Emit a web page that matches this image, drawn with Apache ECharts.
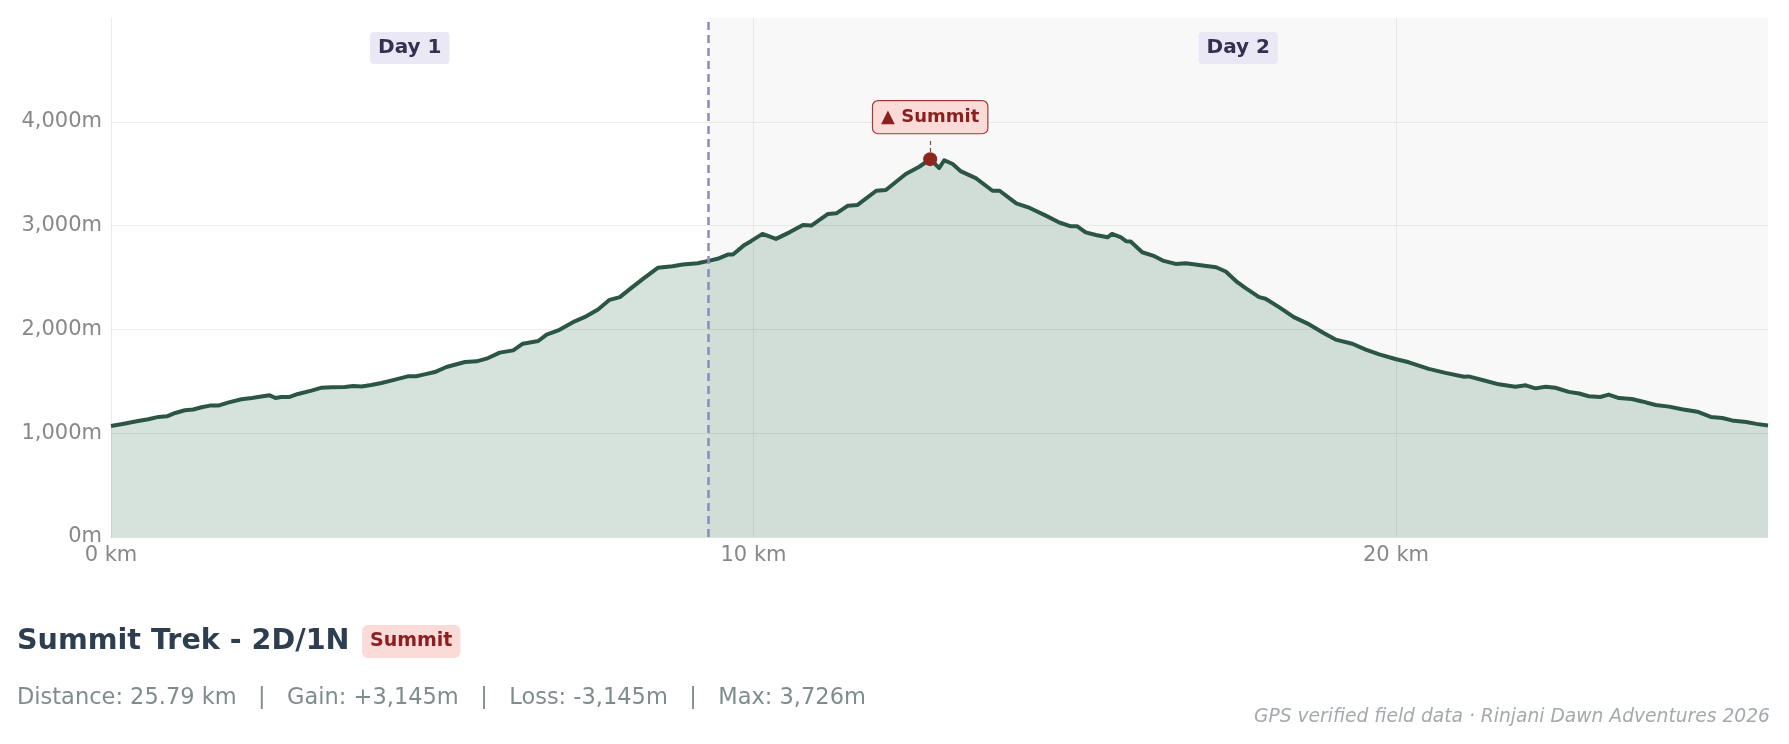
<!DOCTYPE html>
<html lang="en">

<head>
    <meta charset="UTF-8">
    <title>Summit Trek - 2D/1N</title>
    <style>
        html, body { margin: 0; padding: 0; background: #ffffff; }
        #chart { width: 1789px; height: 744px; }
    </style>
</head>

<body>
    <div id="chart"></div>
</body>
<script src="https://cdn.jsdelivr.net/npm/echarts@6.0.0/dist/echarts.min.js"></script>
<script>
    // distance along the trail (km) and elevation (m)
    var distanceKm = [
        0.00, 0.22, 0.42, 0.58, 0.74, 0.87, 1.00, 1.15, 1.28, 1.41, 1.54, 1.67, 1.82, 2.03, 2.19, 2.34,
        2.47, 2.56, 2.65, 2.78, 2.91, 3.12, 3.28, 3.43, 3.64, 3.77, 3.90, 4.05, 4.21, 4.42, 4.62, 4.75,
        4.88, 5.04, 5.22, 5.51, 5.69, 5.87, 6.05, 6.26, 6.41, 6.65, 6.78, 6.96, 7.19, 7.37, 7.58, 7.76,
        7.92, 8.07, 8.28, 8.51, 8.74, 8.90, 9.13, 9.32, 9.44, 9.60, 9.68, 9.86, 9.96, 10.14, 10.35, 10.56,
        10.77, 10.90, 11.16, 11.29, 11.47, 11.62, 11.91, 12.06, 12.37, 12.58, 12.75, 12.89, 12.97, 13.10,
        13.23, 13.46, 13.72, 13.83, 14.09, 14.30, 14.55, 14.76, 14.94, 15.04, 15.17, 15.33, 15.51, 15.58,
        15.72, 15.80, 15.87, 16.05, 16.24, 16.37, 16.57, 16.73, 16.99, 17.20, 17.35, 17.53, 17.66, 17.87,
        17.97, 18.18, 18.41, 18.65, 18.88, 19.06, 19.32, 19.53, 19.74, 19.99, 20.20, 20.51, 20.77, 21.06,
        21.13, 21.39, 21.60, 21.86, 22.02, 22.17, 22.33, 22.48, 22.69, 22.85, 23.00, 23.18, 23.31, 23.47,
        23.67, 23.83, 24.04, 24.25, 24.45, 24.69, 24.90, 25.08, 25.23, 25.45, 25.61, 25.79
    ];
    var elevationM = [
        1070, 1093, 1118, 1135, 1157, 1163, 1195, 1221, 1228, 1250, 1266, 1266, 1295, 1327, 1339, 1353,
        1365, 1339, 1349, 1349, 1378, 1410, 1439, 1442, 1445, 1455, 1449, 1464, 1484, 1516, 1548, 1548,
        1567, 1589, 1638, 1686, 1692, 1724, 1776, 1798, 1862, 1888, 1949, 1990, 2070, 2118, 2192, 2285,
        2311, 2385, 2487, 2593, 2609, 2625, 2637, 2663, 2680, 2721, 2721, 2814, 2850, 2920, 2872, 2935,
        3006, 3000, 3112, 3118, 3192, 3199, 3336, 3343, 3497, 3567, 3640, 3555, 3630, 3593,
        3522, 3458, 3336, 3336, 3214, 3170, 3096, 3030, 2993, 2993, 2935, 2910, 2887, 2920,
        2887, 2849, 2846, 2743, 2705, 2663, 2631, 2637, 2615, 2599, 2558, 2455, 2397, 2311,
        2295, 2215, 2118, 2048, 1963, 1902, 1862, 1805, 1760, 1715, 1683, 1620, 1581, 1544,
        1547, 1505, 1471, 1448, 1461, 1432, 1448, 1438, 1398, 1382, 1356, 1349, 1372, 1338,
        1329, 1306, 1272, 1256, 1230, 1207, 1157, 1147, 1123, 1107, 1090, 1074
    ];
    var dayBreakKm = 9.3;
    var dayLabels = ['Day 1', 'Day 2'];
    var summitLabel = '▲ Summit';
    var yTicks = [0, 1000, 2000, 3000, 4000, 5000];
    var xTicks = [0, 10, 20];

    var totalKm = distanceKm[distanceKm.length - 1];
    var profile = distanceKm.map(function (d, i) { return [d, elevationM[i]]; });

    // highest point of the route
    var topIdx = 0;
    elevationM.forEach(function (v, i) { if (v > elevationM[topIdx]) topIdx = i; });
    var summit = [distanceKm[topIdx], elevationM[topIdx]];

    var font = 'DejaVu Sans';
    var chart = echarts.init(document.getElementById('chart'));

    var option = {
        animation: false,
        textStyle: { fontFamily: font },
        grid: { left: 111, right: 21, top: 18, bottom: 207, outerBoundsMode: 'none' },
        xAxis: {
            type: 'value',
            min: xTicks[0],
            max: totalKm,
            interval: xTicks[1] - xTicks[0],
            axisLine: { show: true, lineStyle: { color: 'rgba(0,0,0,0.12)', width: 1 } },
            axisTick: { show: false },
            axisLabel: {
                showMaxLabel: false,
                margin: 8,
                fontSize: 21,
                color: '#888888',
                formatter: function (v) { return v + ' km'; }
            },
            splitLine: { show: true, showMinLine: false, showMaxLine: false, lineStyle: { color: '#eeeeee', width: 1 } }
        },
        yAxis: {
            type: 'value',
            min: yTicks[0],
            max: yTicks[yTicks.length - 1],
            interval: yTicks[1] - yTicks[0],
            axisLine: { show: true, lineStyle: { color: 'rgba(0,0,0,0.08)', width: 1 } },
            axisTick: { show: false },
            axisLabel: {
                showMaxLabel: false,
                margin: 9,
                fontSize: 21,
                color: '#888888',
                padding: [5, 0, 0, 0],
                formatter: function (v) { return echarts.format.addCommas(v) + 'm'; }
            },
            splitLine: { show: true, showMinLine: false, showMaxLine: false, lineStyle: { color: '#eeeeee', width: 1 } }
        },
        series: [{
            // day zones + day break
            name: 'days',
            type: 'line',
            data: [],
            z: 1,
            silent: true,
            markArea: {
                silent: true,
                label: {
                    position: 'insideTop',
                    distance: 14,
                    fontSize: 20,
                    fontWeight: 'bold',
                    color: '#35304f',
                    backgroundColor: '#ebe8f5',
                    padding: [6, 8],
                    borderRadius: 4
                },
                data: [
                    [{ name: dayLabels[0], xAxis: 0, itemStyle: { color: 'rgba(0,0,0,0)' } }, { xAxis: dayBreakKm }],
                    [{ name: dayLabels[1], xAxis: dayBreakKm, itemStyle: { color: 'rgba(0,0,0,0.028)', opacity: 1 } }, { xAxis: totalKm }]
                ]
            },
            markLine: {
                silent: true,
                symbol: 'none',
                label: { show: false },
                lineStyle: { color: '#8e8abf', type: [8, 5], width: 2.5, opacity: 1 },
                data: [{ xAxis: dayBreakKm }]
            }
        }, {
            name: 'Elevation',
            type: 'line',
            data: profile,
            z: 3,
            showSymbol: false,
            lineStyle: { color: '#2b5644', width: 4, join: 'round' },
            areaStyle: { color: 'rgba(38,104,74,0.19)', opacity: 1 }
        }, {
            name: 'Summit',
            type: 'scatter',
            data: [summit],
            z: 5,
            symbolSize: 14,
            itemStyle: { color: '#8e2620', opacity: 1 },
            label: {
                show: true,
                position: 'top',
                distance: 19,
                formatter: summitLabel,
                fontSize: 18,
                fontWeight: 'bold',
                color: '#8b1e1e',
                backgroundColor: '#fadbd8',
                borderColor: '#a03c34',
                borderWidth: 1.2,
                borderRadius: 5,
                padding: [7, 8]
            },
            markLine: {
                silent: true,
                symbol: 'none',
                label: { show: false },
                lineStyle: { color: '#a03c34', type: [4, 3], width: 1.2, opacity: 1 },
                data: [[{ coord: [summit[0], summit[1] + 70] }, { coord: [summit[0], summit[1] + 205] }]]
            }
        }],
        graphic: [{
            type: 'text',
            left: 17,
            top: 627,
            style: {
                text: 'Summit Trek - 2D/1N',
                font: 'bold 28.6px "DejaVu Sans"',
                fill: '#2c3e50'
            }
        }, {
            type: 'text',
            left: 362,
            top: 625,
            style: {
                text: 'Summit',
                font: 'bold 19px "DejaVu Sans"',
                fill: '#8b1e1e',
                backgroundColor: '#fadbd8',
                padding: [7, 8],
                borderRadius: 6
            }
        }, {
            type: 'text',
            left: 17,
            top: 687,
            style: {
                text: 'Distance: 25.79 km   |   Gain: +3,145m   |   Loss: -3,145m   |   Max: 3,726m',
                font: '22.5px "DejaVu Sans"',
                fill: '#7f8c8d'
            }
        }, {
            type: 'text',
            right: 19,
            top: 708,
            style: {
                text: 'GPS verified field data · Rinjani Dawn Adventures 2026',
                font: 'italic 18.7px "DejaVu Sans"',
                fill: '#a4a9ad'
            }
        }]
    };
    chart.setOption(option);
</script>

</html>
